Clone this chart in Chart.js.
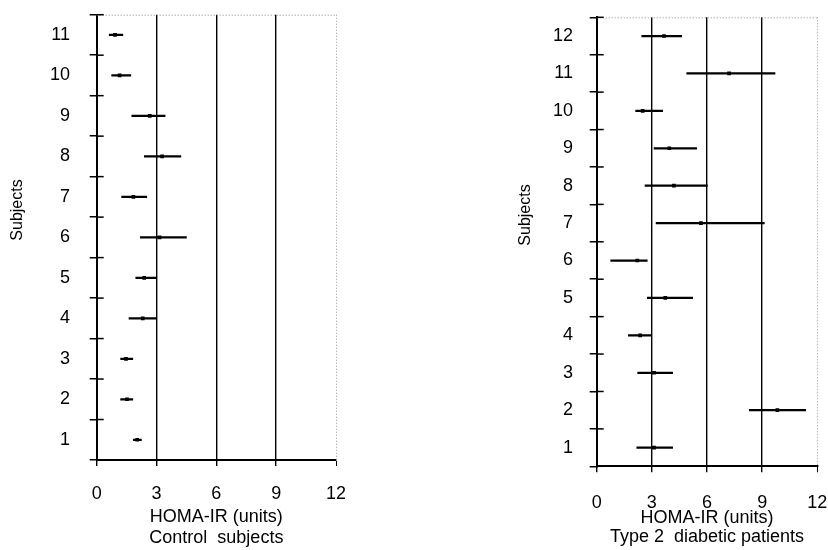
<!DOCTYPE html>
<html>
<head>
<meta charset="utf-8">
<script src="https://cdn.jsdelivr.net/npm/chart.js@4/dist/chart.umd.min.js"></script>
<style>
    body { margin: 0; background: #fff; width: 828px; height: 550px; position: relative; overflow: hidden; }
    canvas { position: absolute; top: 0; }
    #controlChart { left: 0; }
    #diabeticChart { left: 500px; }
</style>
</head>
<body>
<canvas id="controlChart" width="345" height="550"></canvas>
<canvas id="diabeticChart" width="328" height="550"></canvas>
<script>
// Tick labels on the HOMA-IR axis
const xTicks = [0, 3, 6, 9, 12];

// Control subjects (subject 1 first)
const controlSubjects = ['1', '2', '3', '4', '5', '6', '7', '8', '9', '10', '11'];
const controlLow  = [1.84, 1.20, 1.20, 1.62, 1.96, 2.19, 1.25, 2.39, 1.76, 0.75, 0.63];
const controlHigh = [2.24, 1.81, 1.81, 2.98, 2.98, 4.50, 2.51, 4.22, 3.43, 1.71, 1.31];
const controlMean = [2.03, 1.52, 1.47, 2.31, 2.38, 3.15, 1.84, 3.28, 2.66, 1.15, 0.92];

// Type 2 diabetic patients (subject 1 first)
const diabeticSubjects = ['1', '2', '3', '4', '5', '6', '7', '8', '9', '10', '11', '12'];
const diabeticLow  = [2.18, 8.30, 2.23, 1.72, 2.75, 0.76, 3.23, 2.63, 3.12, 2.12, 4.90, 2.45];
const diabeticHigh = [4.13, 11.37, 4.13, 2.99, 5.22, 2.75, 9.12, 6.02, 5.44, 3.59, 9.70, 4.62];
const diabeticMean = [3.12, 9.83, 3.12, 2.36, 3.73, 2.21, 5.67, 4.20, 3.95, 2.50, 7.20, 3.66];

const tickFont = "'Liberation Sans Narrow', 'Liberation Sans', Arial, sans-serif";
const textFont = "'Liberation Sans', Arial, sans-serif";

// dotted top edge, inner tick stubs on the subject axis and the rotated axis title
const panelExtras = {
    id: 'panelExtras',
    afterDraw(chart, args, opts) {
        const { ctx, chartArea: a, scales } = chart;
        ctx.save();
        ctx.strokeStyle = '#8a8a8a';
        ctx.lineWidth = 1;
        ctx.setLineDash([1, 2]);
        ctx.beginPath();
        ctx.moveTo(a.left, a.top + 0.5);
        ctx.lineTo(a.right, a.top + 0.5);
        ctx.stroke();
        ctx.setLineDash([]);

        ctx.strokeStyle = '#000';
        ctx.lineWidth = 1.5;
        const y = scales.y;
        for (let i = 0; i <= y.ticks.length; i++) {
            const py = y.getPixelForValue(i - 0.5);
            ctx.beginPath();
            ctx.moveTo(a.left, py);
            ctx.lineTo(a.left + 7, py);
            ctx.stroke();
        }

        ctx.translate(opts.titleX, opts.titleY);
        ctx.rotate(-Math.PI / 2);
        ctx.font = '16px ' + textFont;
        ctx.fillStyle = '#000';
        ctx.textAlign = 'center';
        ctx.textBaseline = 'middle';
        ctx.fillText(opts.title, 0, 0);
        ctx.restore();
    }
};

function makePanel(canvasId, subjects, low, high, mean, xTitle, lay) {
    const ctx = document.getElementById(canvasId).getContext('2d');
    return new Chart(ctx, {
        type: 'bar',
        data: {
            labels: subjects,
            datasets: [
                {
                    label: 'range',
                    data: subjects.map((s, i) => [low[i], high[i]]),
                    backgroundColor: '#000',
                    borderWidth: 0,
                    barThickness: 1.6
                },
                {
                    label: 'mean',
                    type: 'line',
                    data: subjects.map((s, i) => ({ x: mean[i], y: s })),
                    showLine: false,
                    pointStyle: 'rect',
                    pointRadius: 2.6,
                    pointBackgroundColor: '#000',
                    pointBorderWidth: 0
                }
            ]
        },
        options: {
            indexAxis: 'y',
            responsive: false,
            animation: false,
            layout: { padding: lay.padding },
            plugins: {
                legend: { display: false },
                tooltip: { enabled: false },
                panelExtras: { title: 'Subjects', titleX: lay.titleX, titleY: lay.titleY }
            },
            scales: {
                x: {
                    type: 'linear',
                    min: 0,
                    max: 12,
                    afterBuildTicks: s => { s.ticks = xTicks.map(v => ({ value: v })); },
                    afterFit: s => {
                        s.height = lay.xHeight;
                        s.paddingLeft = 0;
                        s.paddingRight = 0;
                    },
                    ticks: {
                        color: '#000',
                        padding: lay.xTickPad,
                        maxRotation: 0,
                        font: { family: tickFont, size: 18 }
                    },
                    grid: {
                        color: c => (c.tick && c.tick.value === 12) ? '#9a9a9a' : '#000',
                        lineWidth: c => (c.tick && c.tick.value === 12) ? 1 : 1.4,
                        tickColor: '#000',
                        tickLength: 6
                    },
                    border: {
                        color: '#000',
                        width: 2,
                        dash: c => (c.tick && c.tick.value === 12) ? [1, 2] : []
                    },
                    title: {
                        display: true,
                        text: ['HOMA-IR (units)', xTitle],
                        color: '#000',
                        padding: { top: 0, bottom: 0 },
                        font: { family: textFont, size: 18, lineHeight: lay.titleLine }
                    }
                },
                y: {
                    type: 'category',
                    reverse: true,
                    offset: true,
                    afterFit: s => {
                        s.width = lay.yWidth;
                        s.paddingTop = 0;
                        s.paddingBottom = 0;
                    },
                    ticks: {
                        color: '#000',
                        padding: lay.yTickPad,
                        font: { family: tickFont, size: 18 }
                    },
                    grid: {
                        offset: true,
                        drawOnChartArea: false,
                        color: '#000',
                        lineWidth: 1.5,
                        tickLength: 7
                    },
                    border: { color: '#000', width: 2 }
                }
            }
        },
        plugins: [panelExtras]
    });
}

makePanel('controlChart', controlSubjects, controlLow, controlHigh, controlMean, 'Control  subjects', {
    padding: { top: 14.7, right: 9, bottom: 1.6, left: 0 },
    yWidth: 96.7,
    xHeight: 88.4,
    xTickPad: 17,
    yTickPad: 19.7,
    titleLine: 1.15,
    titleX: 18,
    titleY: 210
});

makePanel('diabeticChart', diabeticSubjects, diabeticLow, diabeticHigh, diabeticMean, 'Type 2  diabetic patients', {
    padding: { top: 17.3, right: 10.7, bottom: 3.6, left: 0 },
    yWidth: 96.7,
    xHeight: 80.1,
    xTickPad: 19.6,
    yTickPad: 16.7,
    titleLine: 1.04,
    titleX: 26,
    titleY: 215
});
</script>
</body>
</html>
